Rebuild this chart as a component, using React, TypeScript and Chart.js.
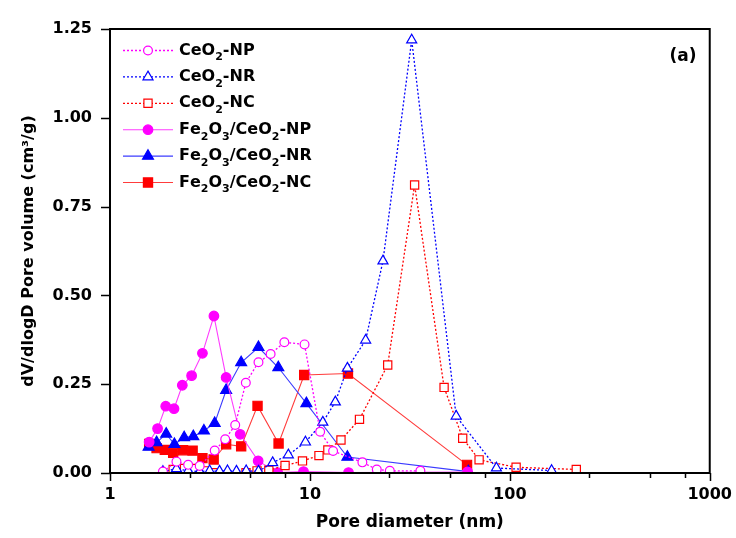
import React, { useEffect, useRef } from 'react';
import { Chart, registerables } from 'chart.js';

Chart.register(...registerables);

const FONT = '"DejaVu Sans", "Liberation Sans", sans-serif';

// CeO2-NP (open circles, dotted)
const ceNP_d = [1.84, 2.15, 2.46, 2.81, 3.34, 3.77, 4.23, 4.78, 5.53, 6.36, 7.45, 9.40, 11.25, 13.06, 18.3, 21.6, 25.1, 35.7];
const ceNP_v = [0.004, 0.032, 0.023, 0.020, 0.063, 0.095, 0.135, 0.254, 0.312, 0.335, 0.368, 0.362, 0.116, 0.062, 0.030, 0.010, 0.006, 0.006];

// CeO2-NR (open triangles, dotted)
const ceNR_d = [1.84, 2.15, 2.46, 2.81, 3.15, 3.53, 3.87, 4.29, 4.80, 5.53, 6.51, 7.80, 9.50, 11.6, 13.4, 15.4, 19.0, 23.2, 32.3, 53.9, 85.7, 161.8];
const ceNR_v = [0.004, 0.012, 0.006, 0.004, 0.006, 0.005, 0.006, 0.005, 0.006, 0.005, 0.029, 0.051, 0.087, 0.143, 0.200, 0.295, 0.374, 0.597, 1.219, 0.160, 0.014, 0.007];

// CeO2-NC (open squares, dotted)
const ceNC_d = [2.07, 2.36, 2.65, 3.00, 3.33, 4.79, 5.44, 6.23, 7.51, 9.18, 11.1, 12.3, 14.3, 17.7, 24.5, 33.4, 46.9, 58.1, 70.2, 107.5, 215];
const ceNC_v = [0.010, 0.013, 0.013, 0.006, 0.001, 0.001, 0.006, 0.008, 0.021, 0.034, 0.049, 0.065, 0.093, 0.151, 0.304, 0.811, 0.241, 0.098, 0.037, 0.016, 0.010];

// Fe2O3/CeO2-NP (filled circles, solid)
const feNP_d = [1.57, 1.73, 1.90, 2.09, 2.30, 2.56, 2.90, 3.31, 3.81, 4.48, 5.51, 6.90, 9.29, 15.6, 61.5];
const feNP_v = [0.087, 0.125, 0.188, 0.181, 0.247, 0.274, 0.337, 0.442, 0.269, 0.109, 0.034, 0.001, 0.004, 0.001, 0.003];

// Fe2O3/CeO2-NR (filled triangles, solid)
const feNR_d = [1.56, 1.71, 1.91, 2.10, 2.35, 2.61, 2.95, 3.34, 3.81, 4.53, 5.53, 6.95, 9.60, 15.4, 62.0];
const feNR_v = [0.073, 0.086, 0.110, 0.081, 0.100, 0.103, 0.119, 0.140, 0.233, 0.311, 0.354, 0.297, 0.196, 0.045, 0.004];

// Fe2O3/CeO2-NC (filled squares, solid)
const feNC_d = [1.57, 1.71, 1.88, 2.07, 2.32, 2.59, 2.90, 3.30, 3.81, 4.53, 5.47, 6.97, 9.36, 15.5, 61.1];
const feNC_v = [0.082, 0.070, 0.065, 0.057, 0.064, 0.063, 0.042, 0.038, 0.081, 0.075, 0.189, 0.083, 0.276, 0.280, 0.023];

const seriesLabels = ['CeO₂-NP', 'CeO₂-NR', 'CeO₂-NC', 'Fe₂O₃/CeO₂-NP', 'Fe₂O₃/CeO₂-NR', 'Fe₂O₃/CeO₂-NC'];

const xMajorTicks = [1, 10, 100, 1000];
const xMinorTicks = [2.5, 5, 7.5, 25, 50, 75, 250, 500, 750];
const yTicks = [0, 0.25, 0.5, 0.75, 1.0, 1.25];

const xTitle = 'Pore diameter (nm)';
const yTitle = 'dV/dlogD Pore volume (cm³/g)';
const panelLabel = '(a)';

const MAGENTA = '#ff00ff';
const BLUE = '#0000ff';
const RED = '#ff0000';

const toPts = (d: number[], v: number[]) => d.map((x, i) => ({ x, y: v[i] }));

const SUBS: Record<string, string> = { '₀': '0', '₁': '1', '₂': '2', '₃': '3', '₄': '4' };

function drawRich(ctx: CanvasRenderingContext2D, text: string, x: number, y: number, size: number) {
  let cx = x;
  ctx.textAlign = 'left';
  ctx.textBaseline = 'middle';
  for (const ch of text) {
    if (SUBS[ch]) {
      ctx.font = `bold ${Math.round(size * 0.68)}px ${FONT}`;
      ctx.fillText(SUBS[ch], cx, y + 7);
      cx += ctx.measureText(SUBS[ch]).width;
    } else {
      ctx.font = `bold ${size}px ${FONT}`;
      ctx.fillText(ch, cx, y);
      cx += ctx.measureText(ch).width;
    }
  }
}

function drawMarker(ctx: CanvasRenderingContext2D, style: string, x: number, y: number, r: number, color: string, filled: boolean) {
  ctx.beginPath();
  if (style === 'circle') {
    ctx.arc(x, y, r, 0, Math.PI * 2);
  } else if (style === 'triangle') {
    const h = r * 1.5;
    const w = r * Math.sqrt(3) / 2 * 2;
    ctx.moveTo(x, y - r);
    ctx.lineTo(x + w / 2, y - r + h);
    ctx.lineTo(x - w / 2, y - r + h);
    ctx.closePath();
  } else {
    const s = r * Math.SQRT1_2;
    ctx.rect(x - s, y - s, 2 * s, 2 * s);
  }
  ctx.fillStyle = filled ? color : '#ffffff';
  ctx.fill();
  ctx.strokeStyle = color;
  ctx.lineWidth = 1.2;
  ctx.setLineDash([]);
  ctx.stroke();
}

const decorPlugin = {
  id: 'decor',
  afterDraw(chart: any) {
    const { ctx, chartArea: a, scales } = chart;
    const x = scales.x;
    const y = scales.y;
    ctx.save();
    // frame
    ctx.strokeStyle = '#000';
    ctx.lineWidth = 2;
    ctx.setLineDash([]);
    ctx.strokeRect(a.left, a.top, a.right - a.left, a.bottom - a.top);
    // ticks
    ctx.lineWidth = 1.5;
    ctx.beginPath();
    xMajorTicks.forEach((v) => {
      const px = Math.round(x.getPixelForValue(v)) + 0.5;
      ctx.moveTo(px, a.bottom);
      ctx.lineTo(px, a.bottom + 8);
    });
    xMinorTicks.forEach((v) => {
      const px = Math.round(x.getPixelForValue(v)) + 0.5;
      ctx.moveTo(px, a.bottom);
      ctx.lineTo(px, a.bottom + 5);
    });
    yTicks.forEach((v) => {
      const py = Math.round(y.getPixelForValue(v)) + 0.5;
      ctx.moveTo(a.left, py);
      ctx.lineTo(a.left - 9, py);
    });
    ctx.stroke();

    // legend
    chart.data.datasets.forEach((ds: any, i: number) => {
      const ly = 50.5 + i * 26.4;
      ctx.strokeStyle = ds.borderColor;
      ctx.lineWidth = ds.borderWidth;
      ctx.setLineDash(ds.borderDash || []);
      ctx.beginPath();
      ctx.moveTo(123, ly);
      ctx.lineTo(173, ly);
      ctx.stroke();
      drawMarker(ctx, ds.pointStyle, 148, ly, ds.pointRadius, ds.pointBorderColor, ds.pointBackgroundColor !== '#ffffff');
      ctx.fillStyle = '#000';
      drawRich(ctx, ds.label, 179, ly, 16);
    });

    // panel label
    ctx.fillStyle = '#000';
    ctx.font = `bold 17px ${FONT}`;
    ctx.textAlign = 'center';
    ctx.textBaseline = 'middle';
    ctx.fillText(panelLabel, 683, 57);
    ctx.restore();
  },
};

function mkDataset(label: string, d: number[], v: number[], color: string, lineColor: string, style: string, filled: boolean, r: number) {
  return {
    label,
    data: toPts(d, v),
    borderColor: lineColor,
    borderWidth: filled ? 1.1 : 1.3,
    borderDash: filled ? [] : [2, 2],
    pointStyle: style,
    pointRadius: r,
    pointHoverRadius: r,
    pointBorderColor: color,
    pointBackgroundColor: filled ? color : '#ffffff',
    pointBorderWidth: 1.2,
    tension: 0,
    fill: false,
  };
}

export default function App() {
  const ref = useRef<HTMLCanvasElement | null>(null);
  useEffect(() => {
    if (!ref.current) return;
    const chart = new Chart(ref.current, {
      type: 'line',
      data: {
        datasets: [
          mkDataset(seriesLabels[0], ceNP_d, ceNP_v, MAGENTA, MAGENTA, 'circle', false, 4.4),
          mkDataset(seriesLabels[1], ceNR_d, ceNR_v, BLUE, BLUE, 'triangle', false, 5.8),
          mkDataset(seriesLabels[2], ceNC_d, ceNC_v, RED, RED, 'rect', false, 5.8),
          mkDataset(seriesLabels[3], feNP_d, feNP_v, MAGENTA, '#ff3cff', 'circle', true, 4.8),
          mkDataset(seriesLabels[4], feNR_d, feNR_v, BLUE, '#3c3cff', 'triangle', true, 6.3),
          mkDataset(seriesLabels[5], feNC_d, feNC_v, RED, '#ff3c3c', 'rect', true, 6.5),
        ] as any,
      },
      options: {
        animation: false,
        responsive: false,
        maintainAspectRatio: false,
        layout: { padding: { top: 29, right: 24, bottom: 0, left: 0 } },
        plugins: { legend: { display: false }, tooltip: { enabled: false } },
        scales: {
          x: {
            type: 'logarithmic',
            min: 1,
            max: 1000,
            afterBuildTicks: (scale: any) => {
              scale.ticks = xMajorTicks.map((v) => ({ value: v }));
            },
            afterFit: (scale: any) => {
              scale.height = 65;
            },
            ticks: {
              autoSkip: false,
              maxRotation: 0,
              padding: 4,
              color: '#000',
              font: { family: FONT, size: 16, weight: 'bold' },
              callback: (v: any) => String(v),
            },
            grid: { display: true, drawOnChartArea: false, drawTicks: true, tickLength: 8, color: 'rgba(0,0,0,0)' },
            border: { display: false },
            title: {
              display: true,
              text: xTitle,
              color: '#000',
              font: { family: FONT, size: 17, weight: 'bold' },
              padding: { top: 0, bottom: 5 },
            },
          },
          y: {
            type: 'linear',
            min: 0,
            max: 1.25,
            afterBuildTicks: (scale: any) => {
              scale.ticks = yTicks.map((v) => ({ value: v }));
            },
            afterFit: (scale: any) => {
              scale.width = 110;
            },
            ticks: {
              padding: 10,
              color: '#000',
              font: { family: FONT, size: 16, weight: 'bold' },
              callback: (v: any) => Number(v).toFixed(2),
            },
            grid: { display: true, drawOnChartArea: false, drawTicks: true, tickLength: 8, color: 'rgba(0,0,0,0)' },
            border: { display: false },
            title: {
              display: true,
              text: yTitle,
              color: '#000',
              font: { family: FONT, size: 16, weight: 'bold' },
              padding: { top: 19, bottom: 0 },
            },
          },
        },
      } as any,
      plugins: [decorPlugin],
    });
    return () => chart.destroy();
  }, []);
  return (
    <div style={{ position: 'absolute', left: 0, top: 0, width: 736, height: 538, background: '#fff' }}>
      <canvas ref={ref} width={736} height={538} style={{ display: 'block', width: 736, height: 538 }} />
    </div>
  );
}
